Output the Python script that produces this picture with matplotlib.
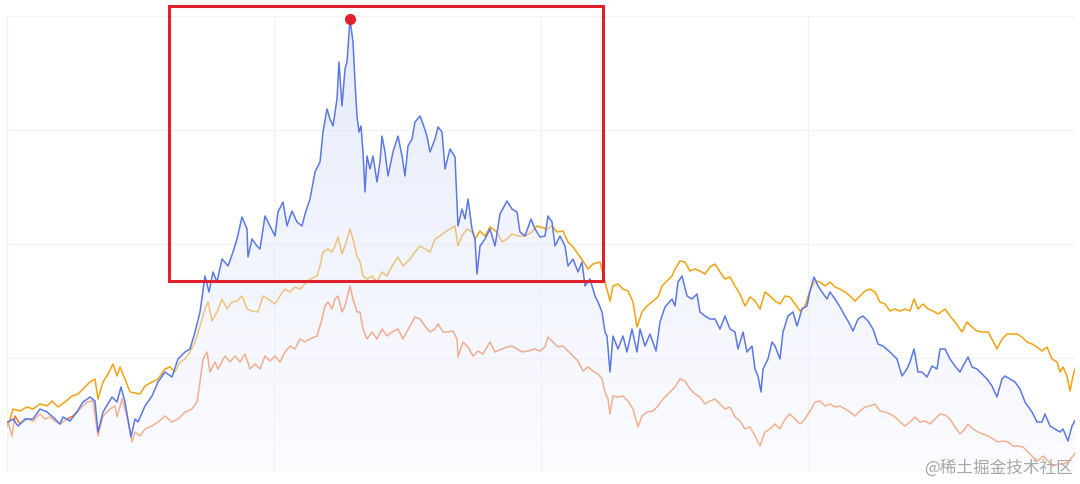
import numpy as np
import matplotlib
matplotlib.use("Agg")
from matplotlib import pyplot as plt
from matplotlib.patches import Rectangle
from matplotlib.ticker import MultipleLocator

# values (x = trading step, y = level, grid every 267 / 114)
blue_x = [1, 6, 11, 18, 26, 33, 40, 46, 53, 56, 63, 70, 76, 83, 88, 91, 96, 105, 110, 114, 118, 124, 128, 131,
          138, 145, 151, 158, 165, 171, 178, 183, 188, 193, 198, 202, 206, 210, 215, 221, 226, 230, 235, 240,
          241, 245, 250, 253, 258, 263, 268, 271, 276, 280, 285, 290, 295, 298, 303, 308, 313, 316, 320, 323,
          326, 330, 332, 335, 338, 340, 343, 346, 348, 350, 352, 354, 356, 358, 360, 363, 366, 370, 373, 375,
          378, 381, 386, 391, 395, 398, 401, 405, 408, 413, 416, 420, 423, 428, 431, 435, 438, 443, 448, 451,
          455, 458, 461, 465, 468, 470, 473, 478, 483, 488, 493, 500, 505, 510, 513, 518, 524, 528, 533, 538,
          541, 545, 548, 553, 558, 561, 566, 571, 575, 578, 583, 588, 591, 595, 598, 600, 603, 606, 611, 616,
          620, 625, 630, 633, 638, 643, 649, 653, 658, 665, 668, 671, 675, 680, 685, 690, 693, 698, 703, 708,
          713, 718, 723, 728, 731, 736, 740, 745, 748, 751, 754, 756, 761, 765, 768, 773, 776, 781, 786, 790,
          795, 800, 803, 807, 811, 815, 820, 823, 828, 833, 838, 841, 846, 851, 856, 861, 866, 871, 876, 883,
          890, 895, 900, 903, 907, 911, 915, 920, 925, 930, 933, 938, 943, 948, 953, 956, 961, 965, 970, 975,
          980, 985, 990, 995, 998, 1003, 1008, 1013, 1018, 1025, 1030, 1035, 1038, 1043, 1048, 1053, 1056,
          1061, 1065, 1069]
blue_y = [50, 53, 46, 53, 53, 63, 60, 55, 48, 55, 51, 60, 70, 75, 71, 40, 60, 75, 70, 85, 70, 35, 53, 50,
          66, 76, 90, 100, 95, 113, 120, 123, 140, 160, 196, 180, 200, 190, 213, 206, 220, 233, 255, 243,
          215, 233, 226, 223, 256, 246, 236, 260, 270, 246, 261, 250, 246, 258, 273, 300, 310, 340, 363, 353,
          346, 373, 410, 366, 403, 410, 453, 430, 390, 356, 340, 346, 320, 280, 316, 303, 316, 290, 310, 336,
          320, 296, 320, 336, 316, 296, 326, 333, 350, 356, 348, 336, 320, 333, 345, 340, 303, 323, 315, 246,
          263, 253, 273, 243, 233, 198, 226, 233, 243, 226, 258, 271, 263, 260, 240, 236, 253, 243, 235, 236,
          256, 250, 226, 236, 226, 206, 213, 200, 210, 186, 193, 176, 170, 160, 140, 136, 100, 136, 123, 136,
          120, 143, 120, 143, 126, 138, 121, 150, 165, 173, 166, 190, 196, 176, 173, 178, 160, 156, 153, 153,
          143, 156, 143, 140, 123, 140, 120, 126, 103, 96, 80, 103, 113, 130, 126, 113, 140, 156, 160, 146,
          163, 166, 181, 195, 186, 180, 173, 180, 173, 165, 156, 151, 141, 153, 156, 151, 143, 128, 126, 120,
          113, 96, 103, 110, 123, 100, 100, 95, 106, 103, 123, 123, 113, 106, 100, 106, 115, 105, 103, 98,
          93, 86, 75, 93, 96, 93, 90, 83, 70, 60, 50, 50, 58, 46, 43, 40, 43,
          31, 46, 53]

gold_x = [1, 6, 13, 20, 26, 33, 40, 45, 51, 58, 65, 71, 78, 83, 88, 91, 96, 101, 106, 110, 113, 118, 123, 128,
          133, 138, 145, 151, 158, 163, 168, 173, 178, 183, 188, 193, 198, 201, 205, 210, 215, 220, 225, 230,
          235, 240, 245, 251, 256, 261, 268, 273, 278, 283, 288, 293, 298, 303, 310, 313, 316, 321, 325, 328,
          331, 335, 338, 343, 346, 350, 353, 356, 360, 365, 370, 375, 380, 385, 391, 396, 403, 408, 413, 418,
          423, 428, 433, 438, 443, 448, 451, 455, 460, 465, 468, 473, 478, 483, 490, 495, 500, 505, 511, 518,
          525, 530, 533, 540, 545, 550, 556, 561, 566, 571, 576, 581, 586, 593, 598, 603, 606, 611, 616, 621,
          626, 630, 635, 640, 646, 651, 655, 660, 665, 668, 673, 678, 683, 688, 693, 698, 703, 708, 713, 718,
          723, 728, 733, 738, 743, 748, 753, 758, 763, 768, 773, 778, 783, 788, 793, 798, 803, 808, 813, 818,
          823, 828, 833, 838, 843, 848, 853, 858, 863, 868, 873, 878, 883, 888, 893, 898, 903, 907, 911, 916,
          921, 926, 931, 938, 943, 948, 955, 960, 965, 970, 975, 981, 986, 990, 995, 1000, 1005, 1010, 1015,
          1020, 1025, 1030, 1035, 1040, 1045, 1050, 1053, 1056, 1060, 1063, 1066, 1069]
gold_y = [46, 63, 61, 65, 63, 68, 66, 71, 65, 70, 76, 78, 85, 90, 93, 73, 90, 98, 108, 96, 105, 93, 80, 79,
          78, 86, 90, 93, 103, 105, 100, 110, 113, 120, 130, 146, 163, 170, 151, 160, 173, 163, 170, 171,
          176, 163, 161, 160, 176, 173, 168, 176, 183, 180, 185, 183, 188, 193, 196, 206, 220, 223, 220, 226,
          235, 218, 226, 243, 233, 216, 210, 196, 193, 196, 190, 200, 196, 206, 215, 206, 213, 220, 226, 223,
          220, 233, 236, 240, 243, 246, 226, 236, 243, 240, 233, 241, 236, 245, 240, 230, 233, 238, 236, 236,
          240, 246, 245, 243, 246, 240, 241, 230, 225, 218, 211, 203, 208, 210, 190, 171, 186, 188, 183, 181,
          170, 145, 160, 166, 171, 175, 186, 191, 196, 203, 211, 210, 201, 203, 201, 198, 205, 208, 200, 193,
          195, 186, 178, 166, 175, 171, 163, 180, 176, 171, 168, 176, 175, 168, 161, 166, 181, 191, 190, 186,
          190, 185, 183, 180, 176, 171, 176, 181, 183, 180, 170, 168, 161, 163, 161, 163, 161, 173, 163, 168,
          163, 161, 158, 163, 156, 150, 140, 150, 145, 141, 140, 140, 131, 123, 133, 138, 138, 138, 135,
          130, 128, 125, 121, 125, 113, 110, 100, 105, 96, 81, 96, 106]

salmon_x = [1, 5, 8, 13, 20, 26, 33, 38, 43, 48, 53, 60, 66, 73, 80, 86, 91, 96, 103, 108, 110, 115, 120, 125,
            128, 133, 138, 145, 151, 158, 165, 171, 178, 185, 190, 193, 196, 200, 203, 208, 211, 218, 223, 228,
            233, 238, 243, 248, 253, 258, 263, 268, 273, 278, 283, 288, 293, 298, 303, 310, 315, 318, 321, 325,
            328, 331, 335, 338, 343, 346, 350, 353, 356, 360, 365, 370, 375, 380, 385, 391, 396, 403, 408, 413,
            418, 423, 428, 431, 436, 441, 446, 450, 451, 456, 461, 466, 471, 476, 483, 488, 495, 500, 505, 510,
            515, 521, 528, 533, 538, 541, 546, 551, 556, 561, 566, 571, 576, 581, 586, 591, 595, 598, 601, 603,
            606, 611, 616, 621, 626, 631, 635, 640, 646, 651, 656, 663, 668, 673, 678, 683, 688, 693, 698, 703,
            708, 713, 718, 723, 728, 733, 738, 743, 748, 753, 758, 763, 768, 773, 778, 783, 788, 793, 798, 803,
            808, 813, 818, 823, 828, 833, 838, 843, 848, 853, 858, 863, 868, 873, 878, 883, 888, 893, 898, 903,
            908, 913, 918, 923, 928, 933, 938, 943, 948, 953, 958, 961, 966, 971, 976, 981, 986, 991, 996,
            1001, 1006, 1011, 1016, 1021, 1026, 1031, 1036, 1041, 1046, 1051, 1056, 1061, 1066, 1069]
salmon_y = [50, 36, 56, 48, 53, 51, 58, 53, 55, 51, 48, 53, 56, 63, 70, 71, 36, 56, 63, 66, 55, 73, 56, 30,
            40, 36, 43, 46, 50, 56, 50, 53, 60, 63, 70, 90, 113, 120, 100, 110, 103, 116, 110, 116,
            110, 118, 103, 108, 103, 116, 111, 116, 110, 120, 126, 123, 133, 130, 133, 136, 153, 166, 170, 163,
            173, 176, 160, 166, 186, 173, 160, 160, 143, 133, 140, 133, 143, 136, 140, 143, 133, 146, 155, 153,
            146, 140, 143, 148, 140, 140, 141, 133, 115, 130, 125, 116, 121, 118, 130, 120, 123, 125, 126, 123,
            120, 121, 123, 121, 125, 135, 130, 125, 126, 121, 116, 111, 101, 105, 101, 98, 93, 80, 73, 58,
            76, 75, 76, 71, 63, 45, 56, 60, 61, 66, 73, 80, 85, 93, 91, 83, 78, 75, 68, 71,
            73, 68, 63, 65, 55, 51, 43, 45, 36, 26, 40, 43, 48, 43, 53, 58, 53, 48, 53, 61,
            70, 71, 66, 68, 65, 66, 63, 60, 56, 61, 65, 66, 68, 61, 60, 58, 55, 50, 46, 50,
            55, 50, 51, 48, 53, 58, 57, 53, 45, 38, 43, 48, 43, 40, 38, 36, 33, 30, 31,
            30, 26, 26, 25, 20, 15, 11, 16, 11, 6, 8, 8, 10, 16, 20]

# highlighted window and the peak marker
box_x = [162, 596]
box_y = [191, 466]

fig = plt.figure(figsize=(10.8, 4.85), dpi=100)
ax = fig.add_axes([7 / 1080, 12 / 485, 1068 / 1080, 456 / 485])

ax.xaxis.set_major_locator(MultipleLocator(267))
ax.yaxis.set_major_locator(MultipleLocator(114))
ax.grid(True, color='#f1f2f5', linewidth=0.9, zorder=0)
ax.tick_params(length=0, labelleft=False, labelbottom=False)
for s in ax.spines.values():
    s.set_visible(False)

ax.plot(gold_x, gold_y, color='#f2a20f', linewidth=1.1, zorder=2)
ax.plot(salmon_x, salmon_y, color='#f47530', linewidth=1.1, zorder=2)

# gradient area under the blue series, drawn above the other lines
fill = ax.fill_between(blue_x, blue_y, 0, facecolor='none', edgecolor='none')
top = np.array([205, 215, 248]) / 255
bot = np.array([248, 249, 255]) / 255
t = np.linspace(0, 1, 256)[:, None]
grad = np.zeros((256, 1, 4))
grad[:, 0, :3] = top * (1 - t) + bot * t
grad[:, 0, 3] = 0.47
im = ax.imshow(grad, extent=[0, 1068, 0, max(blue_y)], origin='upper', aspect='auto', zorder=3)
im.set_clip_path(fill.get_paths()[0], transform=ax.transData)
ax.set_xlim(0, 1068)
ax.set_ylim(0, 456)

ax.plot(blue_x, blue_y, color='#5b78e6', linewidth=1.1, zorder=4)

peak = int(np.argmax(blue_y))
ax.plot(blue_x[peak], blue_y[peak], 'o', color='#e2202c', markersize=7, zorder=6, clip_on=False)

ax.add_patch(Rectangle((box_x[0], box_y[0]), box_x[1] - box_x[0], box_y[1] - box_y[0],
                       fill=False, edgecolor='#e0202b', linewidth=2.2, zorder=5, clip_on=False))

fig.text(1073 / 1080, 1 - 468 / 485, '@稀土掘金技术社区', ha='right', va='center',
         fontsize=12, color='#a8a8a8', family=['Noto Sans CJK SC', 'DejaVu Sans'])

fig.savefig('out.png', dpi=100)
